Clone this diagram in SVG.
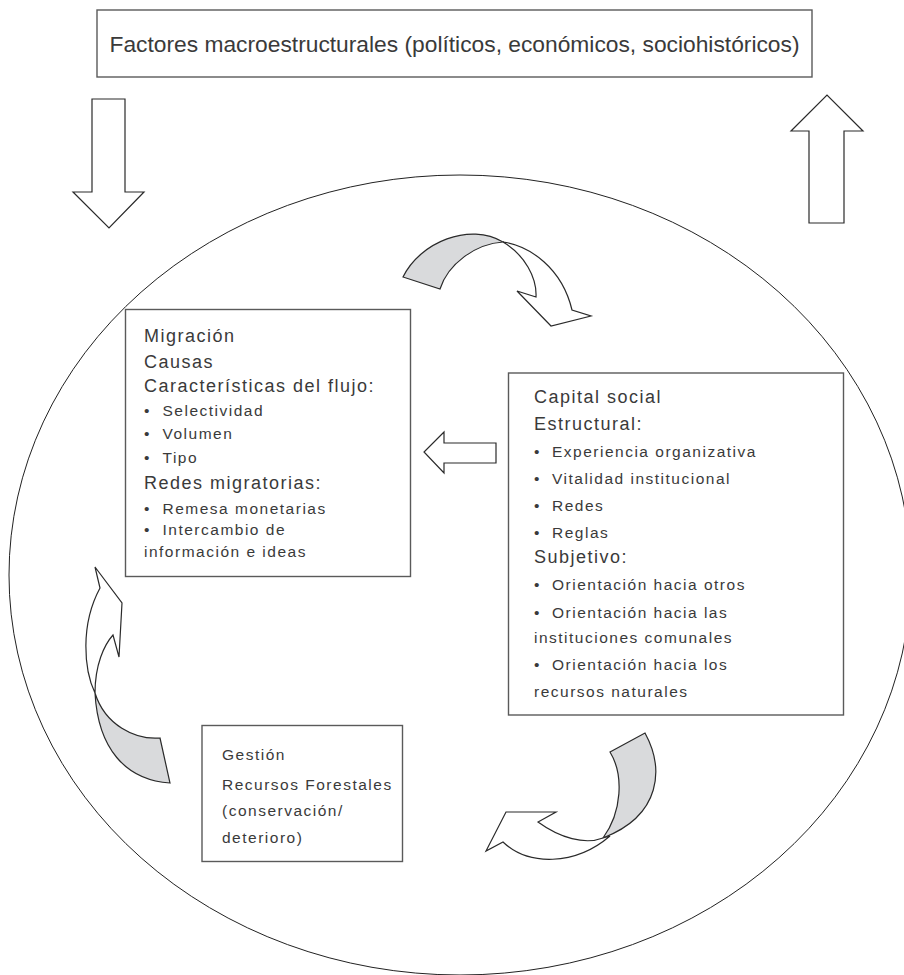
<svg xmlns="http://www.w3.org/2000/svg" width="904" height="975" viewBox="0 0 904 975">
<style>
.box{fill:#fff;stroke:#5a5a5a;stroke-width:1.4}
.t{font-family:"Liberation Sans",Arial,sans-serif;fill:#3a3a3a}
.h{font-size:18px;letter-spacing:1.5px}
.b{font-size:15.5px;letter-spacing:1.5px}
.arr{fill:#fff;stroke:#2a2a2a;stroke-width:1.2;stroke-linejoin:miter}
.back{fill:#d9dadc;stroke:#2a2a2a;stroke-width:1.2}
.ell{fill:none;stroke:#222;stroke-width:1}
</style>
<rect width="904" height="975" fill="#fff"/>
<ellipse class="ell" cx="460" cy="575" rx="451" ry="400"/>

<g id="node-factores">
<rect class="box" x="97" y="10" width="715" height="67"/>
<text class="t" x="454.5" y="52" font-size="22" text-anchor="middle" textLength="690" lengthAdjust="spacingAndGlyphs">Factores macroestructurales (políticos, económicos, sociohistóricos)</text>
</g>

<g id="node-migracion">
<rect class="box" x="125.5" y="309.5" width="285" height="267"/>
<text class="t h" x="144" y="342">Migración</text>
<text class="t h" x="144" y="368">Causas</text>
<text class="t h" x="144" y="391.5">Características del flujo:</text>
<text class="t b" x="144" y="416">•</text><text class="t b" x="162.5" y="416">Selectividad</text>
<text class="t b" x="144" y="439">•</text><text class="t b" x="162.5" y="439">Volumen</text>
<text class="t b" x="144" y="463">•</text><text class="t b" x="162.5" y="463">Tipo</text>
<text class="t h" x="144" y="488.5">Redes migratorias:</text>
<text class="t b" x="144" y="513.5">•</text><text class="t b" x="162.5" y="513.5">Remesa monetarias</text>
<text class="t b" x="144" y="535">•</text><text class="t b" x="162.5" y="535">Intercambio de</text>
<text class="t b" x="144" y="557">información e ideas</text>
</g>

<g id="node-capital">
<rect class="box" x="508.5" y="373" width="335" height="342"/>
<text class="t h" x="534" y="403">Capital social</text>
<text class="t h" x="534" y="430">Estructural:</text>
<text class="t b" x="534" y="457">•</text><text class="t b" x="552" y="457">Experiencia organizativa</text>
<text class="t b" x="534" y="483.5">•</text><text class="t b" x="552" y="483.5">Vitalidad institucional</text>
<text class="t b" x="534" y="510.5">•</text><text class="t b" x="552" y="510.5">Redes</text>
<text class="t b" x="534" y="538">•</text><text class="t b" x="552" y="538">Reglas</text>
<text class="t h" x="534" y="563">Subjetivo:</text>
<text class="t b" x="534" y="590">•</text><text class="t b" x="552" y="590">Orientación hacia otros</text>
<text class="t b" x="534" y="617.5">•</text><text class="t b" x="552" y="617.5">Orientación hacia las</text>
<text class="t b" x="534" y="643">instituciones comunales</text>
<text class="t b" x="534" y="670">•</text><text class="t b" x="552" y="670">Orientación hacia los</text>
<text class="t b" x="534" y="697">recursos naturales</text>
</g>

<g id="node-gestion">
<rect class="box" x="202" y="725.5" width="200.5" height="136"/>
<text class="t b" x="222" y="760">Gestión</text>
<text class="t b" x="222" y="790">Recursos Forestales</text>
<text class="t b" x="222" y="816">(conservación/</text>
<text class="t b" x="222" y="843">deterioro)</text>
</g>

<g id="connectors">
<path class="arr" d="M92 99 L125 99 L125 192 L144 192 L109 228 L73 192 L92 192 Z"/>
<path class="arr" d="M809 223 L844 223 L844 131 L863 131 L827 95 L791 131 L809 131 Z"/>
<path class="arr" d="M496 443 L444 443 L444 432 L424 452 L444 473 L444 463 L496 463 Z"/>
<!-- top curved arrow -->
<path class="back" d="M403 277 C420 242 470 222 503 242 C475 244 448 264 440 289 Z"/>
<path class="arr" d="M503 242 C530 246 562 268 572 310 L591 316 L551 326 L517 291 L536 297 C537 278 525 255 503 242 Z"/>
<!-- right-bottom curved arrow -->
<path class="back" d="M610 752 L645 733 C664 768 662 815 603 838 C622 812 624 775 610 752 Z"/>
<path class="arr" d="M603 838 C585 845 560 838 538 822 L556 812 L506 812 L486 851 L503 842 C528 866 575 866 610 836 Z"/>
<!-- left curved arrow -->
<path class="arr" d="M95 693 C84 670 80 625 100 588 L95 567 L122 603 L119 657 L113 635 C104 645 95 665 95 693 Z"/>
<path class="back" d="M95 693 C98 748 125 780 170 783 L160 738 C135 740 105 725 95 693 Z"/>
</g>
</svg>
